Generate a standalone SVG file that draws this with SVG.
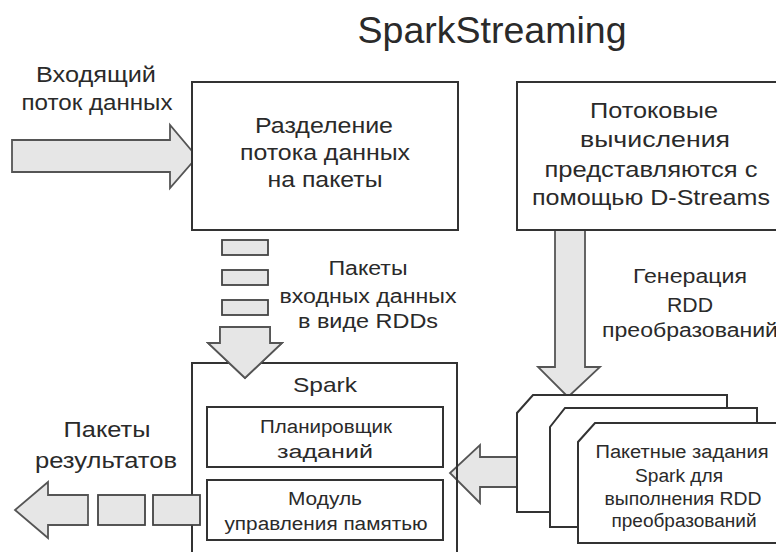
<svg xmlns="http://www.w3.org/2000/svg" width="776" height="552" viewBox="0 0 776 552">
<style>
.t{font-family:"Liberation Sans",Arial,sans-serif;fill:#2a2a2a;text-anchor:middle}
.box{fill:#fff;stroke:#333;stroke-width:2}
.arr{fill:#e6e6e6;stroke:#555;stroke-width:1.8;stroke-linejoin:miter}
.pk{fill:#e6e6e6;stroke:#444;stroke-width:1.8}
</style>
<rect width="776" height="552" fill="#fff"/>
<text class="t" x="492" y="43" font-size="36" textLength="269" lengthAdjust="spacingAndGlyphs">SparkStreaming</text>

<g id="input-label">
<text class="t" x="96" y="82" font-size="22" textLength="120" lengthAdjust="spacingAndGlyphs">Входящий</text>
<text class="t" x="97" y="110" font-size="22" textLength="151" lengthAdjust="spacingAndGlyphs">поток данных</text>
</g>

<g id="connectors">
<path class="arr" d="M12,140 H170 V125 L197,157 L170,188 V172 H12 Z"/>
<path class="arr" d="M555,230 V367 H538 L568,397 L600,367 H585 V230"/>
<path class="arr" d="M220,327 H270 V343 H282 L245,378 L208,343 H220 Z"/>
<path class="arr" d="M537,457 H480 V445 L450,473 L480,503 V487 H537"/>
<path class="arr" d="M88,495 H48 V482 L15,510 L48,538 V525 H88 Z"/>
</g>

<g id="split">
<rect class="box" x="192" y="82" width="266" height="148"/>
<text class="t" x="324" y="133" font-size="22" textLength="138" lengthAdjust="spacingAndGlyphs">Разделение</text>
<text class="t" x="325" y="160" font-size="22" textLength="170" lengthAdjust="spacingAndGlyphs">потока данных</text>
<text class="t" x="325" y="187" font-size="22" textLength="115" lengthAdjust="spacingAndGlyphs">на пакеты</text>
</g>

<g id="dstreams">
<rect class="box" x="517" y="82" width="270" height="148"/>
<text class="t" x="654" y="118" font-size="22" textLength="128" lengthAdjust="spacingAndGlyphs">Потоковые</text>
<text class="t" x="655" y="147" font-size="22" textLength="150" lengthAdjust="spacingAndGlyphs">вычисления</text>
<text class="t" x="651" y="177" font-size="22" textLength="213" lengthAdjust="spacingAndGlyphs">представляются с</text>
<text class="t" x="651" y="205" font-size="22" textLength="238" lengthAdjust="spacingAndGlyphs">помощью D-Streams</text>
</g>

<g id="input-packets">
<rect class="pk" x="222" y="240" width="46" height="15"/>
<rect class="pk" x="222" y="270" width="46" height="15"/>
<rect class="pk" x="222" y="300" width="46" height="15"/>
<text class="t" x="368" y="275" font-size="20" textLength="79" lengthAdjust="spacingAndGlyphs">Пакеты</text>
<text class="t" x="368" y="303" font-size="20" textLength="177" lengthAdjust="spacingAndGlyphs">входных данных</text>
<text class="t" x="368" y="328" font-size="20" textLength="140" lengthAdjust="spacingAndGlyphs">в виде RDDs</text>
</g>

<g id="rdd-gen-label">
<text class="t" x="690" y="283" font-size="20" textLength="114" lengthAdjust="spacingAndGlyphs">Генерация</text>
<text class="t" x="690" y="312" font-size="20" textLength="46" lengthAdjust="spacingAndGlyphs">RDD</text>
<text class="t" x="690" y="337" font-size="20" textLength="176" lengthAdjust="spacingAndGlyphs">преобразований</text>
</g>

<g id="spark">
<path d="M192,560 V363 H457 V560" fill="none" stroke="#333" stroke-width="2"/>
<path class="arr" d="M220,327 H270 V343 H282 L245,378 L208,343 H220 Z"/>
<text class="t" x="325" y="392" font-size="21" textLength="64" lengthAdjust="spacingAndGlyphs">Spark</text>
<rect class="box" x="207" y="407" width="236" height="60" stroke-width="1.5"/>
<text class="t" x="326" y="433" font-size="18" textLength="132" lengthAdjust="spacingAndGlyphs">Планировщик</text>
<text class="t" x="325" y="458" font-size="18" textLength="96" lengthAdjust="spacingAndGlyphs">заданий</text>
<rect class="box" x="207" y="480" width="236" height="60" stroke-width="1.5"/>
<text class="t" x="325" y="505" font-size="18" textLength="74" lengthAdjust="spacingAndGlyphs">Модуль</text>
<text class="t" x="326" y="530" font-size="18" textLength="203" lengthAdjust="spacingAndGlyphs">управления памятью</text>
</g>

<g id="results">
<text class="t" x="107" y="437" font-size="22" textLength="87" lengthAdjust="spacingAndGlyphs">Пакеты</text>
<text class="t" x="106" y="468" font-size="22" textLength="142" lengthAdjust="spacingAndGlyphs">результатов</text>
<rect class="pk" x="98" y="495" width="47" height="30"/>
<rect class="pk" x="153" y="495" width="47" height="30"/>
</g>

<g id="batch-jobs">
<path class="box" d="M517,512 V413 L533,395 H727 V512 Z"/>
<path class="box" d="M550,527 V427 L565,408 H757 V527 Z"/>
<path class="box" d="M578,543 V442 L595,423 H790 V543 Z"/>
<text class="t" x="682" y="458" font-size="18" textLength="173" lengthAdjust="spacingAndGlyphs">Пакетные задания</text>
<text class="t" x="679" y="482" font-size="18" textLength="88" lengthAdjust="spacingAndGlyphs">Spark для</text>
<text class="t" x="683" y="505" font-size="18" textLength="157" lengthAdjust="spacingAndGlyphs">выполнения RDD</text>
<text class="t" x="684" y="527" font-size="18" textLength="145" lengthAdjust="spacingAndGlyphs">преобразований</text>
</g>
</svg>
